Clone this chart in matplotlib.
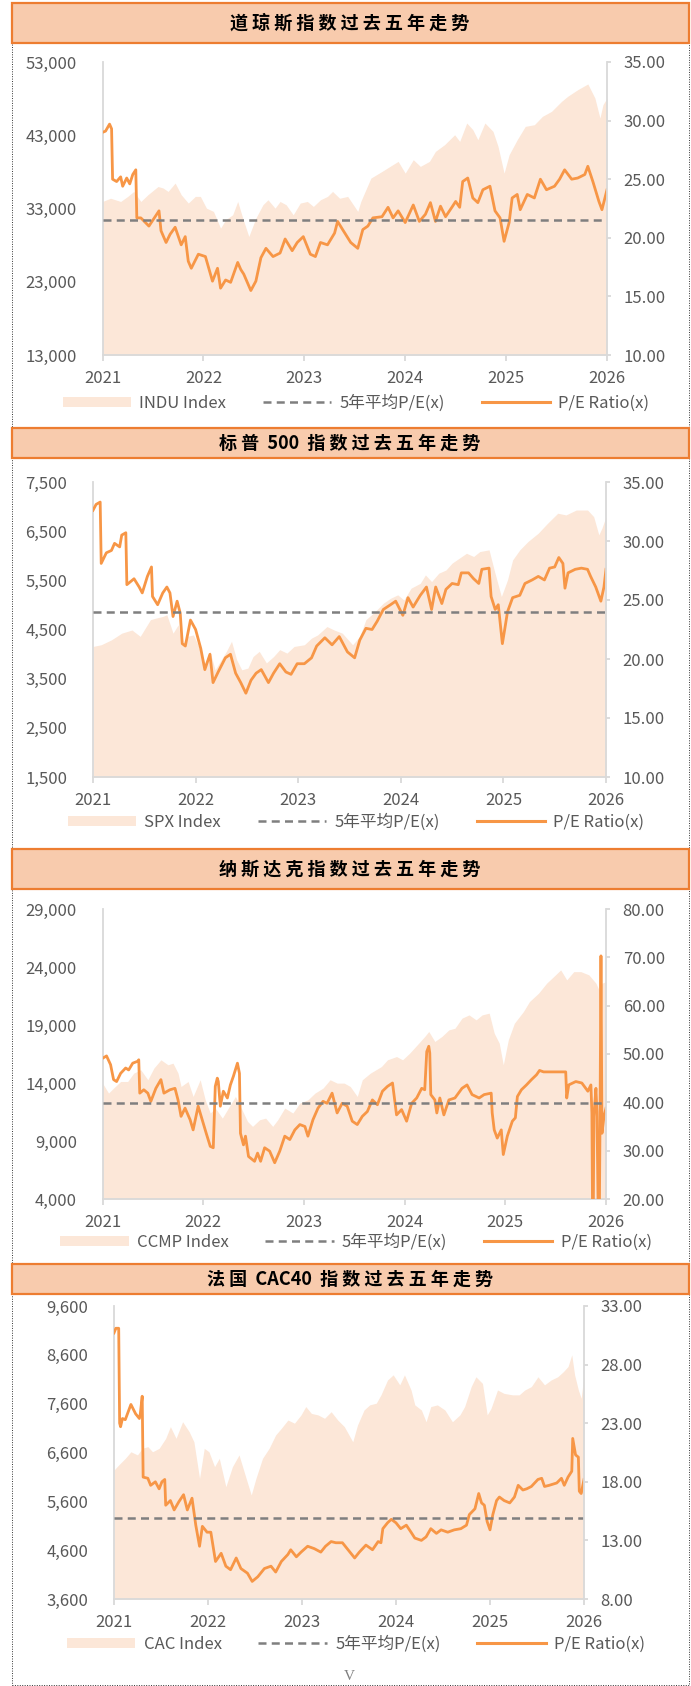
import numpy as np
import matplotlib
matplotlib.use("Agg")
import matplotlib.pyplot as plt
from matplotlib.patches import Rectangle, Patch
from matplotlib.lines import Line2D

plt.rcParams['font.family'] = ['Noto Sans CJK SC', 'DejaVu Sans']

# ---- data (time = years after start of 2021) ----
titles = ["道 琼 斯 指 数 过 去 五 年 走 势",
          "标 普  500  指 数 过 去 五 年 走 势",
          "纳 斯 达 克 指 数 过 去 五 年 走 势",
          "法 国  CAC40  指 数 过 去 五 年 走 势"]
index_names = ["INDU Index", "SPX Index", "CCMP Index", "CAC Index"]
avg_pe = [21.5, 24.0, 39.8, 14.9]

# Dow Jones
dji_t = [0.00, 0.08, 0.18, 0.25, 0.31, 0.38, 0.45, 0.55, 0.60, 0.65, 0.72, 0.78, 0.85, 0.92, 0.97,
         1.03, 1.10, 1.17, 1.22, 1.29, 1.34, 1.39, 1.45, 1.52, 1.59, 1.64, 1.71, 1.76, 1.82, 1.89, 1.96,
         2.03, 2.09, 2.16, 2.23, 2.28, 2.35, 2.43, 2.53, 2.56, 2.61, 2.66, 2.77, 2.85, 2.93,
         3.00, 3.08, 3.15, 3.24, 3.30, 3.39, 3.49, 3.54, 3.61, 3.67, 3.72, 3.79, 3.87, 3.92, 3.98,
         4.03, 4.11, 4.19, 4.28, 4.36, 4.45, 4.55, 4.61, 4.71, 4.81, 4.88, 4.93, 4.96, 5.00]
dji_v = [33960, 34400, 33960, 34650, 35330, 33960, 34880, 36000, 35800, 35330, 36470, 34880, 33740, 34650, 34650,
         33050, 32600, 30320, 31460, 32140, 33960, 31690, 29180, 31690, 33510, 34190, 33050, 33960, 33510, 32140, 33740,
         33960, 33280, 34190, 34650, 35330, 34400, 34650, 32600, 33960, 35560, 37150, 38060, 38750, 39430,
         37830, 39660, 38750, 39430, 40800, 41710, 43070, 42160, 44670, 43760, 42390, 44670, 43530, 41480, 37830,
         40340, 42390, 44210, 44440, 45580, 46260, 47630, 48310, 49220, 50000, 48080, 45350, 47170, 48080]
dji_pe_t = [0.00, 0.03, 0.07, 0.09, 0.10, 0.14, 0.18, 0.20, 0.24, 0.27, 0.30, 0.33, 0.34, 0.38, 0.46, 0.56,
            0.58, 0.63, 0.67, 0.72, 0.78, 0.82, 0.85, 0.88, 0.95, 1.02, 1.09, 1.14, 1.17, 1.22, 1.27, 1.34,
            1.37, 1.40, 1.47, 1.52, 1.57, 1.62, 1.69, 1.76, 1.81, 1.88, 1.93, 1.99, 2.06, 2.11, 2.16, 2.23,
            2.30, 2.33, 2.38, 2.46, 2.53, 2.58, 2.63, 2.68, 2.77, 2.83, 2.88, 2.93, 3.00, 3.08, 3.14, 3.20,
            3.25, 3.30, 3.35, 3.40, 3.47, 3.50, 3.54, 3.57, 3.62, 3.67, 3.72, 3.77, 3.84, 3.89, 3.94, 3.98,
            4.03, 4.06, 4.11, 4.14, 4.21, 4.28, 4.34, 4.40, 4.48, 4.53, 4.58, 4.65, 4.71, 4.78, 4.81, 4.86,
            4.92, 4.95, 5.00]
dji_pe = [29.0, 29.1, 29.7, 29.3, 25.0, 24.8, 25.2, 24.4, 25.1, 24.6, 25.4, 25.8, 21.7, 21.7, 21.0, 22.3,
          20.6, 19.6, 20.3, 20.9, 19.4, 20.1, 18.0, 17.4, 18.6, 18.4, 16.3, 17.4, 15.7, 16.4, 16.2, 17.9,
          17.3, 16.9, 15.5, 16.3, 18.3, 19.1, 18.4, 18.7, 19.9, 18.9, 19.6, 20.1, 18.6, 18.4, 19.6, 19.4,
          20.4, 21.4, 20.7, 19.6, 19.1, 20.7, 21.0, 21.7, 21.8, 22.6, 21.7, 22.3, 21.3, 22.8, 21.4, 22.0,
          23.0, 21.4, 22.7, 21.8, 22.7, 23.1, 22.6, 24.8, 25.1, 23.4, 23.0, 24.1, 24.4, 22.3, 21.7, 19.7,
          21.3, 23.4, 23.7, 22.4, 23.7, 23.4, 25.0, 24.1, 24.4, 25.0, 25.8, 25.0, 25.1, 25.4, 26.1, 24.8,
          23.1, 22.4, 24.1]

# S&P 500
spx_t = [0.00, 0.08, 0.18, 0.28, 0.38, 0.46, 0.51, 0.56, 0.61, 0.68, 0.72, 0.78, 0.83, 0.87, 0.92, 0.98,
         1.03, 1.09, 1.14, 1.19, 1.24, 1.30, 1.35, 1.40, 1.45, 1.51, 1.56, 1.62, 1.69, 1.76, 1.82, 1.89, 1.96,
         2.06, 2.13, 2.19, 2.28, 2.35, 2.43, 2.53, 2.60, 2.66, 2.75, 2.83, 2.90, 2.97,
         3.03, 3.10, 3.19, 3.24, 3.30, 3.37, 3.44, 3.50, 3.57, 3.64, 3.71, 3.77, 3.86, 3.91, 3.98,
         4.04, 4.09, 4.16, 4.24, 4.34, 4.43, 4.53, 4.61, 4.71, 4.82, 4.88, 4.93, 4.96, 5.00]
spx_v = [4155, 4190, 4290, 4425, 4490, 4360, 4530, 4700, 4730, 4765, 4800, 4425, 4595, 4190, 4360, 4390,
         4155, 3820, 4055, 3680, 3850, 4055, 4260, 3885, 3680, 3715, 3950, 4055, 3820, 3950, 4090, 4020, 4155,
         4190, 4325, 4390, 4560, 4490, 4425, 4190, 4360, 4700, 4865, 5035, 5135, 5205,
         5100, 5340, 5440, 5610, 5475, 5645, 5710, 5850, 5950, 6050, 5985, 6085, 6120, 5710, 5170,
         5510, 5915, 6120, 6290, 6460, 6660, 6865, 6830, 6930, 6930, 6795, 6425, 6560, 6795]
spx_pe_t = [0.00, 0.03, 0.07, 0.08, 0.13, 0.18, 0.21, 0.26, 0.28, 0.32, 0.33, 0.40, 0.45, 0.48, 0.53, 0.57,
            0.58, 0.63, 0.68, 0.72, 0.75, 0.78, 0.82, 0.85, 0.87, 0.90, 0.95, 1.00, 1.05, 1.09, 1.14, 1.17,
            1.22, 1.29, 1.34, 1.39, 1.44, 1.49, 1.54, 1.59, 1.64, 1.71, 1.76, 1.82, 1.88, 1.93, 1.99, 2.06,
            2.13, 2.18, 2.26, 2.33, 2.40, 2.48, 2.55, 2.60, 2.66, 2.72, 2.77, 2.83, 2.90, 2.95, 3.02, 3.07,
            3.12, 3.19, 3.25, 3.30, 3.34, 3.40, 3.44, 3.50, 3.56, 3.59, 3.66, 3.71, 3.76, 3.79, 3.86, 3.88,
            3.92, 3.95, 3.99, 4.02, 4.04, 4.09, 4.16, 4.21, 4.28, 4.34, 4.40, 4.45, 4.50, 4.54, 4.58, 4.60,
            4.63, 4.70, 4.76, 4.82, 4.85, 4.90, 4.95, 4.98, 5.00]
spx_pe = [32.6, 33.1, 33.3, 28.1, 29.0, 29.2, 29.8, 29.5, 30.5, 30.7, 26.3, 26.8, 26.1, 25.6, 27.0, 27.8,
          25.3, 24.6, 25.6, 26.1, 25.6, 23.6, 24.9, 23.9, 21.3, 21.1, 23.3, 22.5, 20.9, 19.1, 20.4, 18.0,
          18.9, 20.1, 20.4, 18.8, 18.0, 17.1, 18.2, 18.8, 19.1, 18.0, 18.8, 19.6, 18.9, 18.7, 19.6, 19.6,
          20.1, 21.1, 21.8, 21.2, 21.9, 20.6, 20.1, 21.6, 22.6, 22.5, 23.2, 24.2, 24.6, 24.9, 23.7, 25.2,
          24.4, 25.4, 26.1, 24.2, 26.1, 24.7, 25.9, 26.4, 26.3, 27.3, 27.3, 26.8, 26.4, 27.6, 27.7, 25.3,
          24.2, 24.6, 21.3, 22.9, 24.0, 25.2, 25.4, 26.4, 26.7, 27.0, 26.7, 27.7, 27.8, 28.6, 28.1, 26.0,
          27.3, 27.6, 27.7, 27.6, 27.0, 26.1, 24.9, 26.1, 27.6]

# Nasdaq
ccmp_t = [0.00, 0.06, 0.11, 0.18, 0.25, 0.31, 0.38, 0.45, 0.51, 0.58, 0.65, 0.70, 0.75, 0.78, 0.85, 0.90, 0.97,
          1.02, 1.07, 1.12, 1.19, 1.25, 1.32, 1.37, 1.44, 1.49, 1.56, 1.62, 1.69, 1.74, 1.81, 1.89, 1.96,
          2.04, 2.11, 2.19, 2.26, 2.33, 2.40, 2.46, 2.53, 2.58, 2.66, 2.77, 2.83, 2.92, 2.98,
          3.05, 3.14, 3.20, 3.24, 3.30, 3.37, 3.44, 3.50, 3.57, 3.64, 3.71, 3.77, 3.84, 3.89, 3.94, 3.98,
          4.03, 4.09, 4.18, 4.24, 4.33, 4.41, 4.48, 4.55, 4.61, 4.68, 4.75, 4.83, 4.90, 4.93, 4.96, 5.00]
ccmp_v = [13990, 13130, 13560, 14130, 14130, 14850, 15140, 14280, 15280, 16000, 15570, 15710, 14850, 13700, 14130, 12840, 14280,
          12550, 11410, 11840, 10970, 11840, 12840, 11980, 10690, 10260, 10830, 10970, 10260, 10830, 11840, 11410, 12270,
          12550, 13130, 13560, 14280, 13990, 13990, 13700, 12840, 14280, 14850, 15420, 16000, 16280, 16000,
          16570, 17430, 18010, 18440, 17580, 18010, 18580, 18720, 19590, 19870, 19440, 19870, 20020, 18290, 17430, 15570,
          17720, 19150, 20160, 21020, 21740, 22600, 23170, 23750, 22890, 23600, 23600, 23320, 22600, 22030, 22600, 22740]
ccmp_pe_t = [0.00, 0.04, 0.08, 0.11, 0.14, 0.18, 0.23, 0.26, 0.30, 0.35, 0.36, 0.37, 0.41, 0.45, 0.48, 0.53,
             0.58, 0.61, 0.67, 0.72, 0.75, 0.78, 0.82, 0.87, 0.90, 0.95, 0.98, 1.03, 1.07, 1.10, 1.12, 1.14,
             1.15, 1.17, 1.20, 1.24, 1.27, 1.30, 1.34, 1.36, 1.37, 1.40, 1.42, 1.45, 1.51, 1.54, 1.57, 1.61,
             1.66, 1.71, 1.76, 1.81, 1.86, 1.91, 1.96, 2.01, 2.04, 2.09, 2.14, 2.19, 2.23, 2.28, 2.33, 2.38,
             2.43, 2.48, 2.53, 2.58, 2.63, 2.68, 2.73, 2.78, 2.83, 2.88, 2.92, 2.97, 3.02, 3.07, 3.12, 3.17,
             3.20, 3.22, 3.24, 3.25, 3.26, 3.30, 3.32, 3.35, 3.39, 3.44, 3.50, 3.57, 3.62, 3.67, 3.74, 3.79,
             3.86, 3.87, 3.89, 3.92, 3.96, 3.98, 4.02, 4.07, 4.10, 4.12, 4.16, 4.21, 4.26, 4.31, 4.34, 4.38,
             4.60, 4.61, 4.63, 4.70, 4.76, 4.82, 4.85, 4.86, 4.87, 4.88, 4.90, 4.91, 4.93, 4.94, 4.95, 4.96,
             4.98, 5.00]
ccmp_pe = [49.1, 49.6, 47.8, 44.7, 44.3, 46.0, 47.1, 46.7, 48.1, 48.5, 48.8, 41.9, 42.6, 41.9, 40.2, 42.9,
           44.7, 41.9, 42.6, 42.9, 40.5, 37.1, 38.8, 36.4, 34.3, 39.2, 37.1, 33.6, 30.9, 30.6, 43.3, 45.0,
           44.3, 39.2, 42.3, 40.9, 43.6, 45.4, 48.1, 46.0, 33.6, 31.2, 33.0, 28.8, 27.8, 29.5, 27.8, 30.6,
           29.9, 27.5, 29.9, 33.0, 32.3, 34.3, 35.4, 35.0, 33.0, 36.4, 38.8, 40.2, 39.8, 41.9, 37.8, 39.8,
           39.2, 36.1, 35.4, 37.1, 38.1, 40.5, 39.5, 42.3, 43.3, 44.0, 37.4, 38.5, 36.1, 39.8, 40.9, 42.9,
           42.6, 50.5, 51.6, 50.2, 41.6, 40.5, 37.8, 40.9, 37.4, 40.5, 40.9, 42.9, 43.6, 41.6, 40.9, 41.6,
           41.9, 37.8, 34.3, 32.6, 34.3, 29.2, 33.0, 36.1, 36.8, 41.2, 42.6, 43.6, 44.7, 45.7, 46.6, 46.3,
           46.3, 40.9, 43.6, 44.3, 44.0, 42.3, 43.6, 37.8, 5.0, 37.1, 42.9, 38.0, 5.0, 34.0, 70.3, 33.6,
           37.1, 38.8]

# CAC 40
cac_t = [0.00, 0.05, 0.12, 0.18, 0.25, 0.30, 0.36, 0.41, 0.48, 0.55, 0.60, 0.66, 0.73, 0.80, 0.85, 0.91, 0.96,
         1.01, 1.07, 1.12, 1.19, 1.26, 1.33, 1.40, 1.46, 1.51, 1.58, 1.65, 1.72, 1.78, 1.85, 1.92, 1.99,
         2.04, 2.10, 2.17, 2.24, 2.31, 2.38, 2.45, 2.54, 2.59, 2.66, 2.72, 2.79, 2.84, 2.91, 2.97,
         3.04, 3.09, 3.16, 3.20, 3.27, 3.32, 3.37, 3.44, 3.52, 3.60, 3.68, 3.73, 3.80, 3.85, 3.92, 3.97,
         4.01, 4.08, 4.15, 4.24, 4.31, 4.37, 4.44, 4.51, 4.58, 4.65, 4.72, 4.78, 4.83, 4.87, 4.90, 4.94, 4.97, 5.00]
cac_v = [6240, 6345, 6480, 6615, 6550, 6685, 6720, 6615, 6685, 6890, 7130, 6890, 7230, 7025, 6820, 6070, 6685,
         6615, 6310, 6480, 5900, 6310, 6550, 6105, 5730, 6070, 6480, 6685, 6960, 7095, 7265, 7200, 7370,
         7540, 7400, 7370, 7300, 7435, 7265, 7130, 6820, 7160, 7470, 7575, 7610, 7780, 8085, 8190,
         7985, 8190, 7880, 7575, 7470, 7230, 7540, 7575, 7470, 7230, 7370, 7540, 7950, 8150, 8015, 7370,
         7500, 7880, 7810, 7780, 7780, 7880, 7950, 8150, 7985, 8085, 8150, 8255, 8360, 8600, 8190, 7880, 7710, 8190]
cac_pe_t = [0.00, 0.02, 0.05, 0.06, 0.07, 0.09, 0.12, 0.18, 0.23, 0.27, 0.28, 0.30, 0.31, 0.36, 0.39, 0.44,
            0.48, 0.51, 0.54, 0.55, 0.60, 0.64, 0.69, 0.74, 0.78, 0.83, 0.87, 0.91, 0.94, 0.99, 1.03, 1.08,
            1.14, 1.19, 1.24, 1.30, 1.35, 1.42, 1.47, 1.53, 1.60, 1.67, 1.72, 1.78, 1.85, 1.88, 1.94, 1.99,
            2.06, 2.13, 2.20, 2.25, 2.31, 2.36, 2.43, 2.49, 2.56, 2.61, 2.68, 2.75, 2.81, 2.84, 2.86, 2.91,
            2.95, 3.00, 3.05, 3.11, 3.16, 3.20, 3.27, 3.32, 3.37, 3.43, 3.48, 3.55, 3.62, 3.69, 3.75, 3.78,
            3.84, 3.88, 3.91, 3.94, 3.97, 4.00, 4.03, 4.07, 4.10, 4.15, 4.21, 4.26, 4.30, 4.35, 4.39, 4.44,
            4.51, 4.55, 4.58, 4.63, 4.71, 4.76, 4.79, 4.83, 4.87, 4.88, 4.91, 4.94, 4.95, 4.97, 5.00]
cac_pe = [30.7, 31.1, 31.1, 23.0, 22.7, 23.4, 23.3, 24.6, 23.8, 23.4, 23.8, 25.3, 18.4, 18.3, 17.7, 18.0,
          17.4, 18.0, 18.2, 16.0, 16.4, 15.6, 16.3, 16.9, 15.6, 16.6, 14.3, 12.5, 14.2, 13.7, 13.7, 11.2,
          11.9, 10.8, 10.5, 11.5, 10.6, 10.2, 9.5, 9.9, 10.6, 10.8, 10.3, 11.2, 11.8, 12.2, 11.6, 12.0,
          12.5, 12.3, 12.0, 12.5, 12.9, 12.8, 12.8, 12.2, 11.5, 12.0, 12.6, 12.2, 12.9, 12.8, 14.0, 14.5,
          14.8, 14.5, 14.0, 14.3, 13.7, 13.2, 13.0, 13.3, 14.0, 13.6, 13.9, 13.7, 13.9, 14.0, 14.3, 15.2,
          15.7, 17.0, 16.2, 16.0, 14.6, 13.9, 15.2, 16.4, 16.7, 16.4, 16.2, 16.7, 17.7, 17.3, 17.4, 17.6,
          18.2, 18.3, 17.6, 17.7, 17.9, 18.3, 17.7, 18.4, 18.9, 21.7, 20.3, 20.1, 17.2, 17.0, 18.2]

years = [2021, 2022, 2023, 2024, 2025, 2026]
left_ticks = [[13000, 23000, 33000, 43000, 53000],
              [1500, 2500, 3500, 4500, 5500, 6500, 7500],
              [4000, 9000, 14000, 19000, 24000, 29000],
              [3600, 4600, 5600, 6600, 7600, 8600, 9600]]
right_ticks = [[10, 15, 20, 25, 30, 35],
               [10, 15, 20, 25, 30, 35],
               [20, 30, 40, 50, 60, 70, 80],
               [8, 13, 18, 23, 28, 33]]

# ---- layout (pixels) ----
W, H = 691, 1686
fig = plt.figure(figsize=(W / 100, H / 100), dpi=100)

FILL = '#FCE7D8'
LINE = '#F79646'
GRID = '#D9D9D9'
TXT = '#595959'
DASH = (0, (3.2, 2.1))

def fbox(l, r, top, bottom):
    return [l / W, 1 - bottom / H, (r - l) / W, (bottom - top) / H]

# dotted frame round the whole picture
fig.patches.append(Rectangle((11.5 / W, 1 - 1685 / H), 677.5 / W, 1682 / H, transform=fig.transFigure,
                             fill=False, ec='#333333', lw=0.7, ls=(0, (1, 1.5)), zorder=0))

bars = [(3, 43), (428, 458), (849, 889), (1264, 1294)]
axes_px = [(102.5, 607, 62, 355), (93, 606, 482, 777), (102.5, 606, 909, 1199), (114, 584, 1306, 1599)]
legend_y = [403, 822, 1242, 1644]

series = [(dji_t, dji_v, dji_pe_t, dji_pe), (spx_t, spx_v, spx_pe_t, spx_pe),
          (ccmp_t, ccmp_v, ccmp_pe_t, ccmp_pe), (cac_t, cac_v, cac_pe_t, cac_pe)]

for i in range(4):
    top, bot = bars[i]
    fig.patches.append(Rectangle((12 / W, 1 - bot / H), 677 / W, (bot - top) / H, transform=fig.transFigure,
                                 fc='#F8CBAD', ec='#ED7D31', lw=1.6, zorder=2))
    fig.text(350 / W, 1 - (top + bot) / 2 / H, titles[i], ha='center', va='center',
             fontsize=13, fontweight='bold', color='black', zorder=3)

    l, r, t0, b0 = axes_px[i]
    ax = fig.add_axes(fbox(l, r, t0, b0))
    ax2 = ax.twinx()
    it, iv, pt, pv = series[i]
    lt, rt = left_ticks[i], right_ticks[i]

    ax.fill_between(2021 + np.array(it), iv, lt[0], color=FILL, lw=0)
    ax.set_xlim(2021, 2026)
    ax.set_ylim(lt[0], lt[-1])
    ax.set_yticks(lt)
    ax.set_yticklabels([f"{v:,}" for v in lt])
    ax.set_xticks(years)
    ax.set_xticklabels([str(y) for y in years])
    for s in ['top', 'right']:
        ax.spines[s].set_visible(False)
    for s in ['left', 'bottom']:
        ax.spines[s].set_color(GRID)
        ax.spines[s].set_linewidth(1.3)
    ax.tick_params(axis='y', left=False, labelsize=12, labelcolor=TXT, pad=15)
    ax.tick_params(axis='x', direction='out', length=4, width=1.3, color=GRID,
                   labelsize=12, labelcolor=TXT, pad=7)

    ax2.plot(2021 + np.array(pt), pv, color=LINE, lw=2.0, solid_joinstyle='round')
    ax2.axhline(avg_pe[i], color='#7F7F7F', lw=1.8, ls=DASH)
    ax2.set_ylim(rt[0], rt[-1])
    ax2.set_yticks(rt)
    ax2.set_yticklabels([f"{v:.2f}" for v in rt])
    for s in ['top', 'left', 'bottom']:
        ax2.spines[s].set_visible(False)
    ax2.spines['right'].set_color(GRID)
    ax2.spines['right'].set_linewidth(1.3)
    ax2.tick_params(axis='y', direction='out', length=3, width=1.3, color=GRID,
                    labelsize=12, labelcolor=TXT, pad=9)

    handles = [Patch(fc=FILL, ec='none'),
               Line2D([], [], color='#7F7F7F', lw=1.8, ls=DASH),
               Line2D([], [], color=LINE, lw=2.2)]
    labels = [index_names[i], '5年平均P/E(x)', 'P/E Ratio(x)']
    fig.legend(handles, labels, loc='center', bbox_to_anchor=(356 / W, 1 - legend_y[i] / H),
               ncol=3, frameon=False, fontsize=12, labelcolor=TXT, handlelength=4.1,
               handleheight=0.6, handletextpad=0.5, columnspacing=2.2, borderaxespad=0)

fig.text(349 / W, 1 - 1676 / H, 'V', ha='center', va='center', fontsize=11,
         family='Liberation Serif', color='#808080')

fig.savefig('out.png', dpi=100)
